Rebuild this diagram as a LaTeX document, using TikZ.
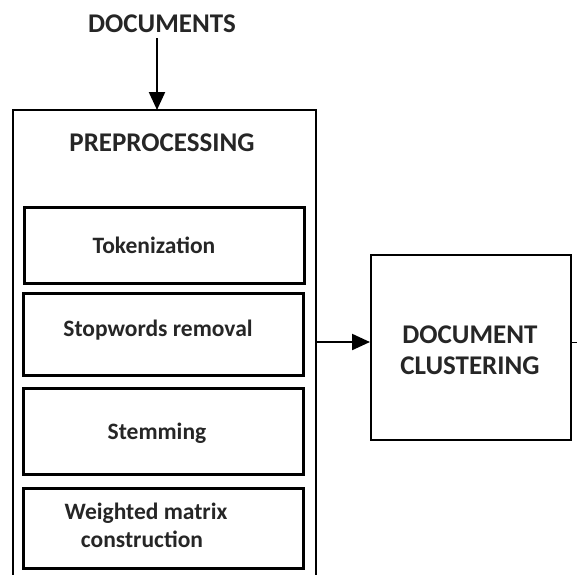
\documentclass[tikz,border=0pt]{standalone}
\usepackage{fontspec}
\setmainfont{Carlito}
\usetikzlibrary{arrows.meta}
\begin{document}
\begin{tikzpicture}[x=1pt,y=-1pt,
  outerbox/.style={draw, line width=1.6pt},
  stepbox/.style={draw, line width=3pt, minimum width=280pt, inner sep=0pt},
  lbl/.style={font=\bfseries, text=black!85, align=center, inner sep=0pt},
  big/.style={lbl, font=\bfseries\fontsize{27}{31}\selectfont},
  small/.style={lbl, font=\bfseries\fontsize{23.5}{26}\selectfont},
  arr/.style={line width=2.2pt, -{Triangle[length=18pt,width=16pt]}}]
\useasboundingbox (0,0) rectangle (577,574);
\begin{scope}
\clip (0,0) rectangle (577,574);
\draw[outerbox] (13,590) -- (13,110) -- (316,110) -- (316,590);
\end{scope}
\coordinate (top) at (157,110);
\coordinate (astart) at (157,38);
\coordinate (oright) at (316,342);
\node[big] (docs) at (162,24) {DOCUMENTS};
\node[big] (pre) at (162,143) {PREPROCESSING};
\node[stepbox, minimum height=76pt] (tok) at (164,245) {};
\node[small] at (154,245) {Tokenization};
\node[stepbox, minimum height=82pt] (stop) at (163,334) {};
\node[small] at (158,330) {Stopwords removal};
\node[stepbox, minimum height=86pt] (stem) at (163,431) {};
\node[small] at (157,433) {Stemming};
\node[stepbox, minimum height=80pt] (wm) at (163,528) {};
\node[small] at (146,513) {Weighted matrix};
\node[small] at (142,539) {construction};
\node[draw, line width=2pt, minimum width=200pt, minimum height=185pt, inner sep=0pt] (clu) at (471,347) {};
\node[big] at (470,335) {DOCUMENT};
\node[big] at (470,366) {CLUSTERING};
\coordinate (rend) at (577,342);
\draw[arr] (astart) -- (top);
\draw[arr] (oright) -- (clu.west |- oright);
\draw[line width=1pt] (clu.east |- rend) -- (rend);
\end{tikzpicture}
\end{document}
